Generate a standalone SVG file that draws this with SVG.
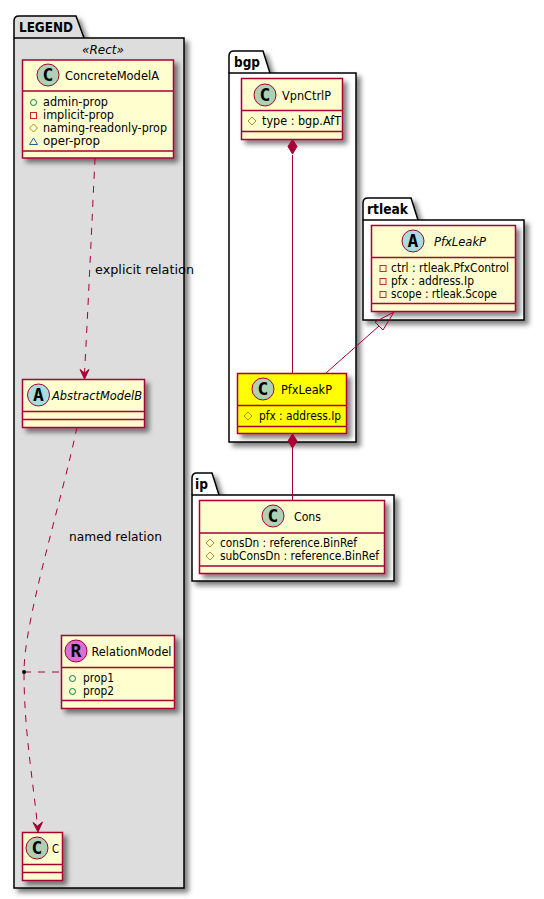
<svg xmlns="http://www.w3.org/2000/svg" width="544" height="899" viewBox="0 0 544 899">
<defs>
<filter id="sh" x="-20%" y="-20%" width="150%" height="150%"><feGaussianBlur in="SourceAlpha" stdDeviation="2.500"/><feOffset dx="4" dy="4"/><feComponentTransfer result="s"><feFuncA type="linear" slope="0.5"/></feComponentTransfer><feMerge><feMergeNode in="s"/><feMergeNode in="SourceGraphic"/></feMerge></filter>
</defs>
<style>
text{font-family:"DejaVu Sans",sans-serif;fill:#000}
.pkg{stroke:#000;stroke-width:1.5}
.pt{font-size:14px;font-weight:bold}
.box{fill:#FEFECE;stroke:#A80036;stroke-width:1.5}
.y{fill:#FF0}
.div{stroke:#A80036;stroke-width:1.5;fill:none}
.cn{font-size:13px}
.lb{font-size:13px}
.mem{font-size:11.500px}
.c{fill:#ADD1B2;stroke:#A80036;stroke-width:1}
.a{fill:#A9DCDF;stroke:#A80036;stroke-width:1}
.r{fill:#DA70D6;stroke:#A80036;stroke-width:1}
.l{font-size:18px;font-weight:bold;text-anchor:middle;font-family:"DejaVu Sans Mono",monospace}
.ln{fill:none;stroke:#A80036;stroke-width:1}
.d{stroke-dasharray:7,7}
.v{fill:none;stroke-width:1}
.ip{stroke:#038048}.pr{stroke:#C82930}.pt2{stroke:#B38D22}.pk{stroke:#1963A0}
</style>
<g id="pkg-legend" filter="url(#sh)"><path class="pkg" fill="#DDDDDD" d="M14 38V21Q14 16 19 16H76L84 38"/><rect class="pkg" fill="#DDDDDD" x="14" y="38" width="170" height="850"/></g>
<text class="pt" x="19" y="32" textLength="54" lengthAdjust="spacingAndGlyphs">LEGEND</text>
<text x="82" y="54" font-size="13" font-style="italic" textLength="42" lengthAdjust="spacingAndGlyphs">«Rect»</text>
<g id="pkg-bgp" filter="url(#sh)"><path class="pkg" fill="#fff" d="M229 73V56Q229 51 234 51H263L270 73"/><rect class="pkg" fill="#fff" x="229" y="73" width="127" height="369"/></g>
<text class="pt" x="234" y="67" textLength="26" lengthAdjust="spacingAndGlyphs">bgp</text>
<g id="pkg-rtleak" filter="url(#sh)"><path class="pkg" fill="#fff" d="M363 220V203Q363 198 368 198H411L418 220"/><rect class="pkg" fill="#fff" x="363" y="220" width="161" height="100"/></g>
<text class="pt" x="367" y="214" textLength="41" lengthAdjust="spacingAndGlyphs">rtleak</text>
<g id="pkg-ip" filter="url(#sh)"><path class="pkg" fill="#fff" d="M192 495V478Q192 473 197 473H212L219 495"/><rect class="pkg" fill="#fff" x="192" y="495" width="202" height="86"/></g>
<text class="pt" x="195" y="489" textLength="13" lengthAdjust="spacingAndGlyphs">ip</text>

<g id="ConcreteModelA"><rect class="box" filter="url(#sh)" x="22.500" y="60" width="151" height="98"/><path class="div" d="M22.500 91H173.500M22.500 151H173.500"/><circle class="c" cx="48" cy="75" r="11"/><text class="l" x="48" y="81">C</text><text class="cn" x="65" y="80" textLength="94" lengthAdjust="spacingAndGlyphs">ConcreteModelA</text>
<circle class="v ip" cx="33.500" cy="102.500" r="3"/><rect class="v pr" x="30.500" y="112.500" width="6" height="6"/><path class="v pt2" d="M33.500 124l4 4-4 4-4-4z"/><path class="v pk" d="M33.500 138l4 6.500h-8z"/>
<text class="mem" x="43" y="106" textLength="65" lengthAdjust="spacingAndGlyphs">admin-prop</text><text class="mem" x="43" y="119" textLength="71" lengthAdjust="spacingAndGlyphs">implicit-prop</text><text class="mem" x="43" y="132" textLength="124" lengthAdjust="spacingAndGlyphs">naming-readonly-prop</text><text class="mem" x="43" y="145" textLength="57" lengthAdjust="spacingAndGlyphs">oper-prop</text></g>

<g id="AbstractModelB"><rect class="box" filter="url(#sh)" x="22.500" y="379.500" width="122" height="48"/><path class="div" d="M22.500 411.500H144.500M22.500 419.500H144.500"/><circle class="a" cx="38.500" cy="395" r="11"/><text class="l" x="38.500" y="401">A</text><text class="cn" x="52" y="400" font-style="italic" textLength="90" lengthAdjust="spacingAndGlyphs">AbstractModelB</text></g>

<g id="RelationModel"><rect class="box" filter="url(#sh)" x="61.500" y="635.500" width="113" height="73"/><path class="div" d="M61.500 667.500H174.500M61.500 700.500H174.500"/><circle class="r" cx="76" cy="651" r="11"/><text class="l" x="76" y="657">R</text><text class="cn" x="91.500" y="656" textLength="80" lengthAdjust="spacingAndGlyphs">RelationModel</text>
<circle class="v ip" cx="72.500" cy="678.500" r="3"/><circle class="v ip" cx="72.500" cy="691.500" r="3"/><text class="mem" x="83" y="682" textLength="31" lengthAdjust="spacingAndGlyphs">prop1</text><text class="mem" x="83" y="695" textLength="31" lengthAdjust="spacingAndGlyphs">prop2</text></g>

<g id="C"><rect class="box" filter="url(#sh)" x="22.500" y="832.500" width="40" height="48"/><path class="div" d="M22.500 864.500H62.500M22.500 872.500H62.500"/><circle class="c" cx="37" cy="848" r="11"/><text class="l" x="37" y="854">C</text><text class="cn" x="52" y="853" textLength="7" lengthAdjust="spacingAndGlyphs">C</text></g>

<g id="VpnCtrlP"><rect class="box" filter="url(#sh)" x="241.500" y="78.500" width="101" height="61"/><path class="div" d="M241.500 110.500H342.500M241.500 131.500H342.500"/><circle class="c" cx="265" cy="95" r="11"/><text class="l" x="265" y="101">C</text><text class="cn" x="282" y="100" textLength="49" lengthAdjust="spacingAndGlyphs">VpnCtrlP</text>
<path class="v pt2" d="M252 117l4 4-4 4-4-4z"/><text class="mem" x="262" y="125" textLength="79" lengthAdjust="spacingAndGlyphs">type : bgp.AfT</text></g>

<g id="PfxLeakP-rtleak"><rect class="box" filter="url(#sh)" x="371.500" y="225.500" width="144" height="86"/><path class="div" d="M371.500 257.500H515.500M371.500 303.500H515.500"/><circle class="a" cx="413" cy="241" r="11"/><text class="l" x="413" y="247">A</text><text class="cn" x="434" y="246" font-style="italic" textLength="52" lengthAdjust="spacingAndGlyphs">PfxLeakP</text>
<rect class="v pr" x="380" y="265.500" width="6" height="6"/><rect class="v pr" x="380" y="278.500" width="6" height="6"/><rect class="v pr" x="380" y="291.500" width="6" height="6"/>
<text class="mem" x="391" y="272" textLength="118" lengthAdjust="spacingAndGlyphs">ctrl : rtleak.PfxControl</text><text class="mem" x="391" y="285" textLength="83" lengthAdjust="spacingAndGlyphs">pfx : address.Ip</text><text class="mem" x="391" y="298" textLength="106" lengthAdjust="spacingAndGlyphs">scope : rtleak.Scope</text></g>

<g id="PfxLeakP"><rect class="box y" filter="url(#sh)" x="237.500" y="373.500" width="109" height="60"/><path class="div" d="M237.500 405.500H346.500M237.500 426.500H346.500"/><circle class="c" cx="263" cy="389" r="11"/><text class="l" x="263" y="395">C</text><text class="cn" x="281" y="394" textLength="51" lengthAdjust="spacingAndGlyphs">PfxLeakP</text>
<path class="v pt2" d="M248 412l4 4-4 4-4-4z"/><text class="mem" x="259" y="420" textLength="82" lengthAdjust="spacingAndGlyphs">pfx : address.Ip</text></g>

<g id="Cons"><rect class="box" filter="url(#sh)" x="199.500" y="500.500" width="185" height="73"/><path class="div" d="M199.500 533H384.500M199.500 566H384.500"/><circle class="c" cx="273" cy="516" r="11"/><text class="l" x="273" y="522">C</text><text class="cn" x="294" y="521" textLength="27" lengthAdjust="spacingAndGlyphs">Cons</text>
<path class="v pt2" d="M210 539l4 4-4 4-4-4zM210 552l4 4-4 4-4-4z"/><text class="mem" x="220" y="547" textLength="137" lengthAdjust="spacingAndGlyphs">consDn : reference.BinRef</text><text class="mem" x="220" y="560" textLength="159" lengthAdjust="spacingAndGlyphs">subConsDn : reference.BinRef</text></g>

<g id="connectors">
<path class="ln d" d="M95 158C92 220 88 310 84.500 373"/>
<path class="ln" d="M84.500 379L80 369.500L84.500 373L89 369.500Z" style="fill:#A80036"/>
<path class="ln d" d="M77 427C62 500 24 620 24 672C24 730 33 780 37.500 826"/>
<path class="ln" d="M38 832L33 822.500L37.500 826L42.500 822Z" style="fill:#A80036"/>
<path class="ln d" d="M24 672H61"/>
<circle cx="24" cy="672" r="2" fill="#000"/>
<path class="ln" d="M292.500 155V373"/>
<path d="M292.500 139.500L288 146.500L292.500 154L297 146.500Z" fill="#A80036" stroke="#A80036"/>
<path class="ln" d="M292.500 448V500"/>
<path d="M292.500 434L288 441L292.500 448L297 441Z" fill="#A80036" stroke="#A80036"/>
<path class="ln" d="M326 373L379 326"/>
<path d="M394 312L375 322L383 330Z" fill="none" stroke="#A80036"/>
</g>
<text class="lb" x="95" y="274" textLength="99" lengthAdjust="spacingAndGlyphs">explicit relation</text>
<text class="lb" x="69" y="541" textLength="93" lengthAdjust="spacingAndGlyphs">named relation</text>
</svg>
